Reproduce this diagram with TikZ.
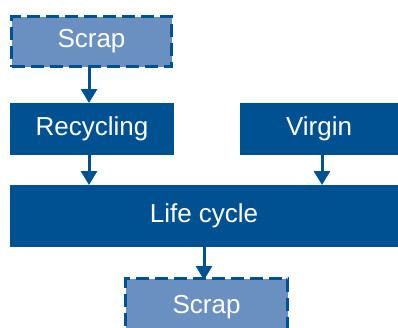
\documentclass[tikz,border=0pt]{standalone}
\usepackage{fontspec}
\setmainfont{Liberation Sans}
\usetikzlibrary{arrows.meta}
\definecolor{navy}{RGB}{0,81,145}
\definecolor{paleblue}{RGB}{106,144,194}
\tikzset{
  boxtext/.style={text=white, font=\fontsize{26}{30}\selectfont, inner sep=0pt, outer sep=0pt},
  solidbox/.style={boxtext, fill=navy, draw=none},
  scrapbox/.style={boxtext, fill=paleblue, draw=navy, line width=3pt,
                   dash pattern=on 13pt off 6pt},
  flow/.style={draw=navy, line width=3pt, -{Triangle[width=16pt,length=14pt]}}
}
\begin{document}
\begin{tikzpicture}[x=1pt,y=-1pt]
\useasboundingbox (0,0) rectangle (398,327);
\clip (0,0) rectangle (398,327);
% boxes
\node[scrapbox, minimum width=160pt, minimum height=50pt] (scrap1) at (91.5,41.5) {Scrap};
\node[solidbox, minimum width=164pt, minimum height=52pt] (recyc) at (92,129) {Recycling};
\node[solidbox, minimum width=158pt, minimum height=52pt] (virgin) at (319,129) {Virgin};
\node[solidbox, minimum width=388pt, minimum height=62pt] (life) at (204,216) {Life cycle};
\node[scrapbox, minimum width=162pt, minimum height=60pt] (scrap2) at (206.5,308.5) {\raisebox{9pt}{Scrap}};
% connectors
\draw[flow] ([xshift=-2.5pt]scrap1.south) -- ([xshift=-3pt]recyc.north);
\draw[flow] ([xshift=-3pt]recyc.south) -- ([xshift=-3pt]recyc.south |- life.north);
\draw[flow] ([xshift=3pt]virgin.south) -- ([xshift=3pt]virgin.south |- life.north);
\draw[flow] (life.south) -- ([yshift=-1.5pt]life.south |- scrap2.north);
\end{tikzpicture}
\end{document}
